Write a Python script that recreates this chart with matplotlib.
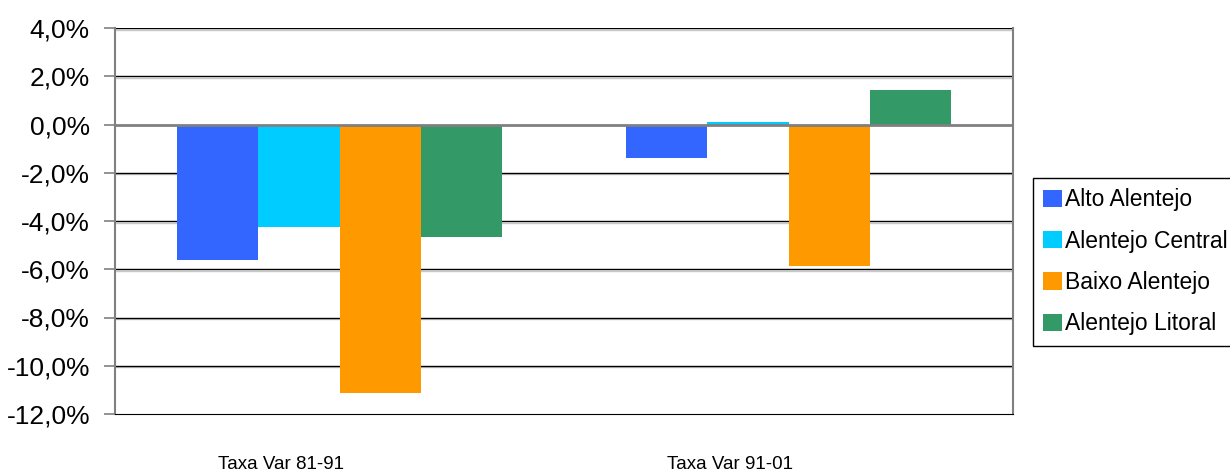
import numpy as np
import matplotlib
matplotlib.use("Agg")
import matplotlib.pyplot as plt
import matplotlib.transforms as mtrans
from matplotlib.ticker import FuncFormatter

plt.rcParams['font.family'] = ['Liberation Sans', 'DejaVu Sans']

categorias = ["Taxa Var 81-91", "Taxa Var 91-01"]
regioes = ["Alto Alentejo", "Alentejo Central", "Baixo Alentejo", "Alentejo Litoral"]
cores = ["#3366FF", "#00CCFF", "#FF9900", "#339966"]
alto_alentejo = [-5.6, -1.38]
alentejo_central = [-4.26, 0.11]
baixo_alentejo = [-11.13, -5.88]
alentejo_litoral = [-4.67, 1.43]
series = [alto_alentejo, alentejo_central, baixo_alentejo, alentejo_litoral]

fig = plt.figure(figsize=(12.3, 4.75), dpi=100)
ax = fig.add_axes([115/1230, 61/475, 898/1230, 386/475])

x = np.arange(len(categorias))
w = 0.1815
for i, (vals, nome, cor) in enumerate(zip(series, regioes, cores)):
    ax.bar(x + (i - 1.5) * w, vals, w, color=cor, label=nome, zorder=3)

ax.set_xlim(-0.5, 1.5)
ax.set_ylim(-12, 4)
ax.set_yticks(np.arange(-12, 4.1, 2))
ax.yaxis.set_major_formatter(FuncFormatter(lambda v, p: f"{v:.1f}%".replace('.', ',')))
ax.tick_params(axis='y', labelsize=19, length=8, width=1.2, color='#808080', pad=10)
ax.set_xticks([])

# linhas de grelha pretas com uma sombra cinzenta por baixo
sombra = mtrans.offset_copy(ax.get_yaxis_transform(), fig=fig, x=0, y=-1.5, units='dots')
for v in np.arange(-10, 4.1, 2):
    if v != 0:
        ax.plot([0, 1], [v, v], color='#c8c8c8', lw=1, zorder=1, transform=sombra)
        ax.axhline(v, color='black', lw=1, zorder=2)
ax.axhline(0, color='#808080', lw=2, zorder=4)

for s in ['left', 'right']:
    ax.spines[s].set_color('#808080')
    ax.spines[s].set_linewidth(1.5)
ax.spines['top'].set_visible(False)
ax.spines['bottom'].set_color('black')

# rótulos das categorias, um pouco deslocados para a esquerda
for xi, lab in zip(x, categorias):
    ax.text(xi - 0.13, -14.1, lab, ha='center', va='center', fontsize=13.5)

fig.legend(loc='upper left', bbox_to_anchor=(1033/1230, 297/475), fontsize=16.5,
           frameon=True, fancybox=False, edgecolor='black', framealpha=1,
           handlelength=0.8, handleheight=0.8, handletextpad=0.15,
           labelspacing=0.8, borderpad=0.45, borderaxespad=0)

fig.savefig("out.png", dpi=100)
